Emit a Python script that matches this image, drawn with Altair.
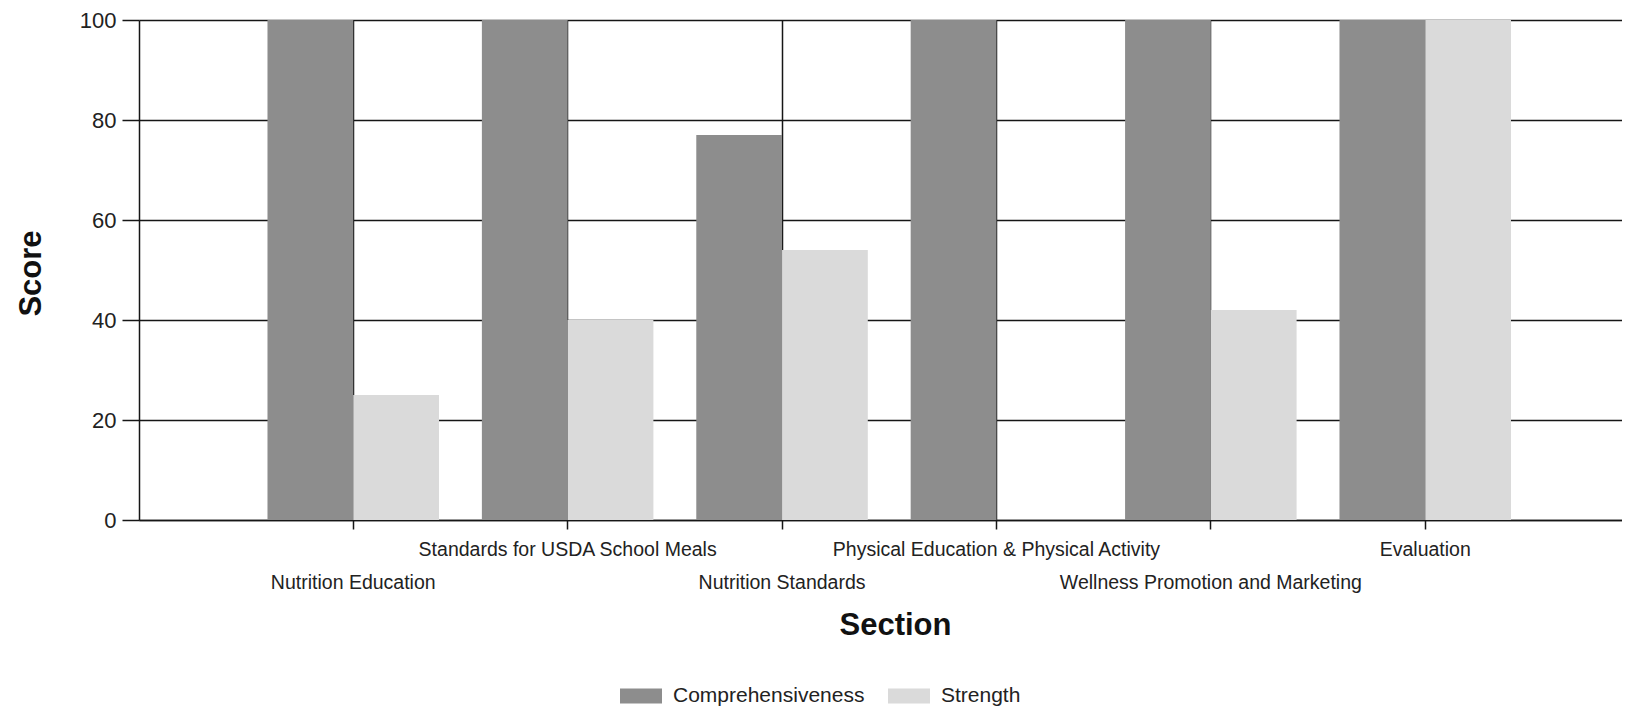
import json
import altair as alt
import pandas as pd

# ---- data ----
sections = [
    "Nutrition Education",
    "Standards for USDA School Meals",
    "Nutrition Standards",
    "Physical Education & Physical Activity",
    "Wellness Promotion and Marketing",
    "Evaluation",
]
series = ["Comprehensiveness", "Strength"]
comprehensiveness = [100, 100, 77, 100, 100, 100]
strength = [25, 40, 54, 0, 42, 100]
colors = ["#8d8d8d", "#dadada"]
y_ticks = [0, 20, 40, 60, 80, 100]
lower_row = [sections[0], sections[2], sections[4]]

rows = []
for s, c, st in zip(sections, comprehensiveness, strength):
    rows.append({"Section": s, "Measure": series[0], "Score": c})
    rows.append({"Section": s, "Measure": series[1], "Score": st})
df = pd.DataFrame(rows)

FONT = "Liberation Sans"
LINE = "#161616"
test = "indexof(" + json.dumps(lower_row) + ", datum.value) >= 0"

x_axis = alt.Axis(
    title="Section",
    bandPosition=0.5,
    grid=True,
    gridColor=LINE,
    gridWidth=1.5,
    ticks=True,
    tickSize=9,
    tickColor=LINE,
    tickWidth=1.5,
    domainColor=LINE,
    domainWidth=1.5,
    labelAngle=0,
    labelFont=FONT,
    labelFontSize=19.5,
    labelColor="#222222",
    labelOverlap=False,
    labelBound=False,
    labelFlush=False,
    labelLimit=600,
    labelPadding={"condition": {"test": test, "value": 44}, "value": 11},
    titleFont=FONT,
    titleFontSize=31,
    titleFontWeight="bold",
    titleColor="#111111",
    titleX=756,
    titleY=114,
    titleAlign="center",
    titleBaseline="alphabetic",
)

y_axis = alt.Axis(
    title="Score",
    values=y_ticks,
    grid=True,
    gridColor=LINE,
    gridWidth=1.5,
    tickSize=17,
    tickColor=LINE,
    tickWidth=1.5,
    domainColor=LINE,
    domainWidth=1.5,
    labelFont=FONT,
    labelFontSize=22,
    labelColor="#222222",
    labelPadding=6,
    titleFont=FONT,
    titleFontSize=31,
    titleFontWeight="bold",
    titleColor="#111111",
    titleAngle=270,
    titleX=-99,
    titleY=253,
    titleAlign="center",
    titleBaseline="alphabetic",
)

legend = alt.Legend(
    title=None,
    orient="none",
    legendX=481,
    legendY=655,
    direction="horizontal",
    symbolType="M-1,-0.357L1,-0.357L1,0.357L-1,0.357Z",
    symbolSize=1764,
    symbolStrokeWidth=0,
    symbolOpacity=1,
    labelFont=FONT,
    labelFontSize=21,
    labelColor="#222222",
    labelLimit=500,
    labelOffset=11,
    columnPadding=23,
    padding=0,
)

chart = (
    alt.Chart(df)
    .mark_bar()
    .encode(
        x=alt.X(
            "Section:N",
            sort=sections,
            scale=alt.Scale(paddingInner=0.2, paddingOuter=0.5585, align=0.5365),
            axis=x_axis,
        ),
        xOffset=alt.XOffset(
            "Measure:N", sort=series, scale=alt.Scale(paddingInner=0, paddingOuter=0)
        ),
        y=alt.Y("Score:Q", scale=alt.Scale(domain=[0, 100], nice=False), axis=y_axis),
        color=alt.Color(
            "Measure:N",
            sort=series,
            scale=alt.Scale(domain=series, range=colors),
            legend=legend,
        ),
    )
    .properties(
        width=1483,
        height=500,
        padding={"left": 131, "top": 12, "right": 0, "bottom": 188},
        autosize=alt.AutoSizeParams(type="none"),
    )
    .configure(font=FONT, background="white")
    .configure_view(strokeWidth=0)
)

chart.save("out.html", embed_options={"renderer": "svg", "actions": False})
